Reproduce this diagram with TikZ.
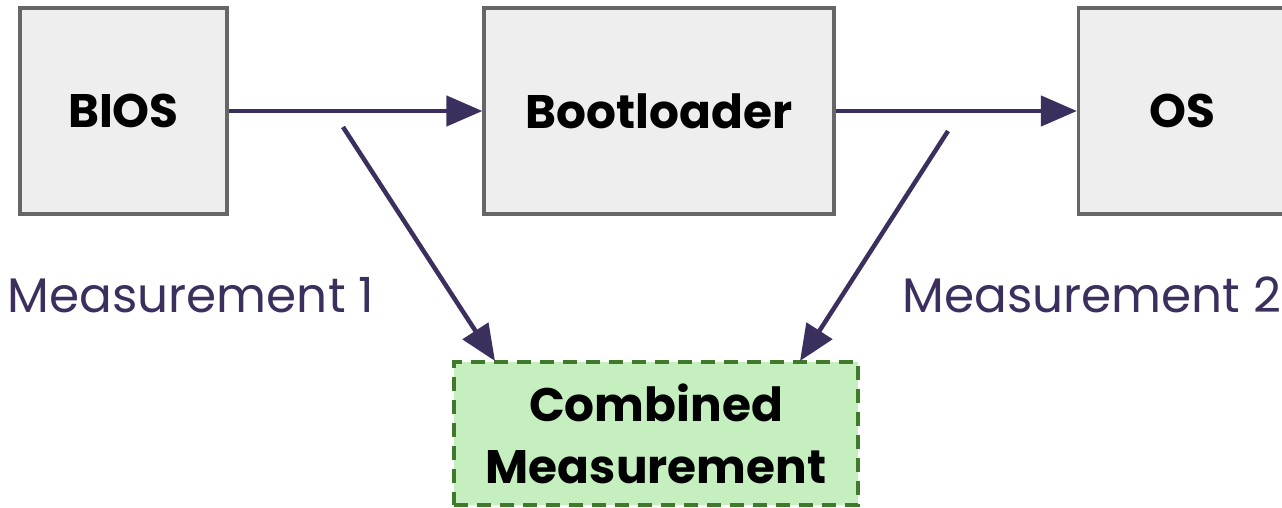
\documentclass[tikz,border=0pt]{standalone}
\usepackage{fontspec}
\setmainfont{Poppins}
\usetikzlibrary{arrows.meta}
\definecolor{boxgrey}{HTML}{EEEEEE}
\definecolor{edgegrey}{HTML}{666666}
\definecolor{ink}{HTML}{3B2F5E}
\definecolor{leaf}{HTML}{C6EFC0}
\definecolor{leafedge}{HTML}{3E7A2A}
\tikzset{
  stage/.style={draw=edgegrey, line width=3.2pt, fill=boxgrey, inner sep=0pt,
    font=\fontsize{47}{53}\selectfont\bfseries, text=black},
  flow/.style={draw=ink, line width=4.5pt, -{Triangle[length=36pt,width=30pt]}},
  result/.style={draw=leafedge, line width=3.2pt, dashed, dash pattern=on 14pt off 9pt,
    fill=leaf, inner sep=0pt, align=center,
    font=\fontsize{47}{62}\selectfont\bfseries, text=black},
  tag/.style={text=ink, font=\fontsize{48.5}{54}\selectfont, inner sep=0pt}
}
\begin{document}
\begin{tikzpicture}[x=1pt,y=-1pt]
\useasboundingbox (0,0) rectangle (1282,507);
\node[stage, minimum width=207pt, minimum height=206pt] (bios) at (123.5,111) {BIOS};
\node[stage, minimum width=350pt, minimum height=206pt] (boot) at (659,111) {Bootloader};
\node[stage, minimum width=207pt, minimum height=206pt] (os) at (1182,111) {OS};
\node[result, minimum width=404pt, minimum height=143pt] (comb) at (656,433.5) {Combined\\Measurement};
\node[tag] (m1) at (191,295) {Measurement 1};
\node[tag] (m2) at (1092,295) {Measurement 2};
\coordinate (s1) at (343,127);
\coordinate (s2) at (948,131);
\coordinate (e1) at (495,361);
\coordinate (e2) at (800,361);
\draw[flow] (bios.east) -- (boot.west);
\draw[flow] (boot.east) -- (os.west);
\draw[flow] (s1) -- (e1);
\draw[flow] (s2) -- (e2);
\end{tikzpicture}
\end{document}
